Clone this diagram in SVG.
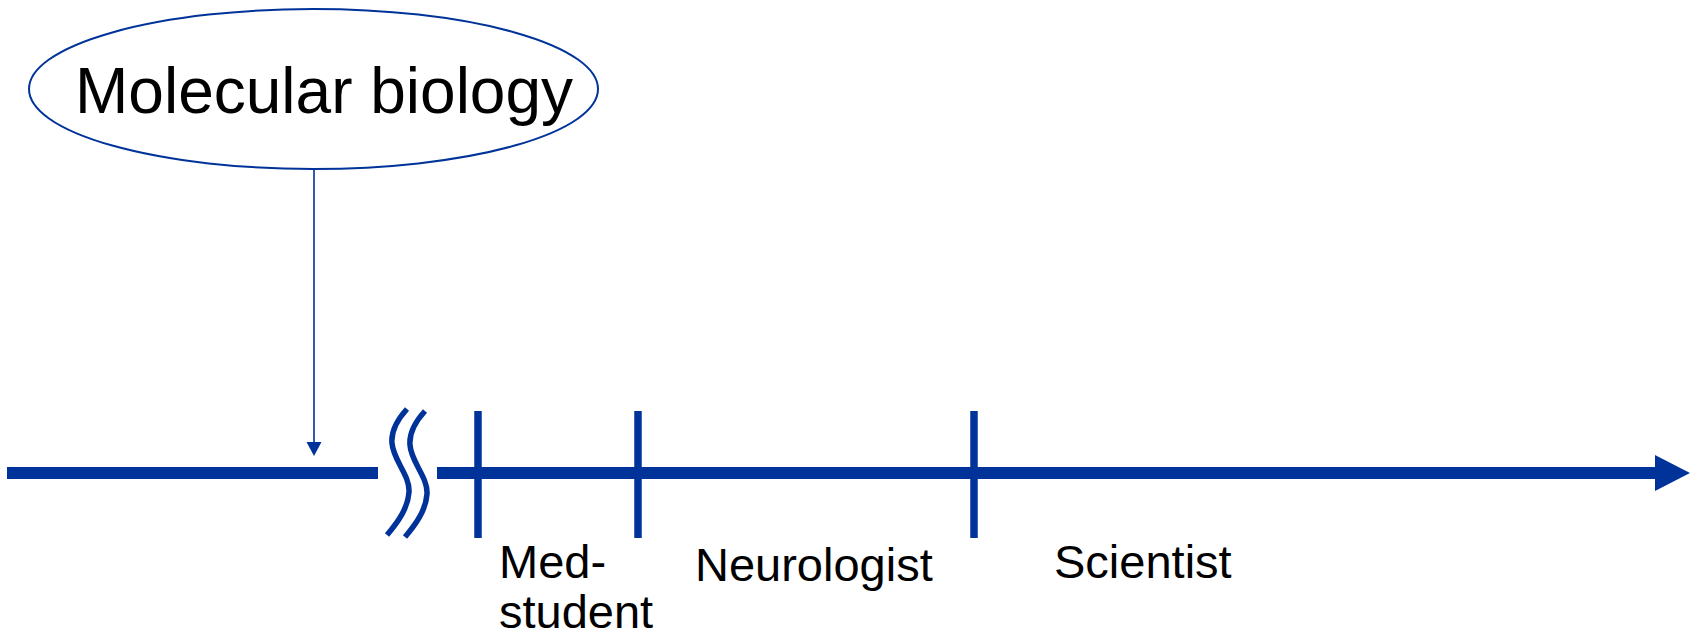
<svg xmlns="http://www.w3.org/2000/svg" width="1691" height="636" viewBox="0 0 1691 636">
  <style>
    .axis { stroke: #003399; stroke-width: 12; fill: none; }
    .tick { stroke: #003399; stroke-width: 7.5; fill: none; }
    .wave { stroke: #003399; stroke-width: 5.5; fill: none; }
    .thin { stroke: #003399; stroke-width: 1.6; fill: none; }
    .blue { fill: #003399; }
    .lbl { font-family: "Liberation Sans", Arial, sans-serif; font-size: 47px; fill: #000; }
    .big { font-family: "Liberation Sans", Arial, sans-serif; font-size: 64px; fill: #000; }
  </style>
  <rect width="1691" height="636" fill="#fff"/>
  <g id="connectors">
    <line class="thin" x1="314" y1="169" x2="314" y2="443"/>
    <polygon class="blue" points="306.5,442 321.5,442 314,456"/>
    <line class="axis" x1="7" y1="473" x2="378" y2="473"/>
    <line class="axis" x1="437" y1="473" x2="1657" y2="473"/>
    <polygon class="blue" points="1655,455 1690,473 1655,491"/>
    <path class="wave" d="M407,409 C397,420 391,432 392,443 C393,460 410,475 409,492 C408,508 398,522 387,535"/>
    <path class="wave" transform="translate(18,2)" d="M407,409 C397,420 391,432 392,443 C393,460 410,475 409,492 C408,508 398,522 387,535"/>
    <line class="tick" x1="478" y1="411" x2="478" y2="538"/>
    <line class="tick" x1="638" y1="411" x2="638" y2="538"/>
    <line class="tick" x1="974" y1="411" x2="974" y2="538"/>
  </g>
  <g id="molecular-biology">
    <ellipse cx="313.5" cy="89" rx="284.5" ry="80" fill="#fff" stroke="#003399" stroke-width="2"/>
    <text class="big" x="75" y="113">Molecular biology</text>
  </g>
  <g id="med-student">
    <text class="lbl" x="499" y="578">Med-</text>
    <text class="lbl" x="499" y="628">student</text>
  </g>
  <g id="neurologist">
    <text class="lbl" x="695" y="581">Neurologist</text>
  </g>
  <g id="scientist">
    <text class="lbl" x="1054" y="578">Scientist</text>
  </g>
</svg>
